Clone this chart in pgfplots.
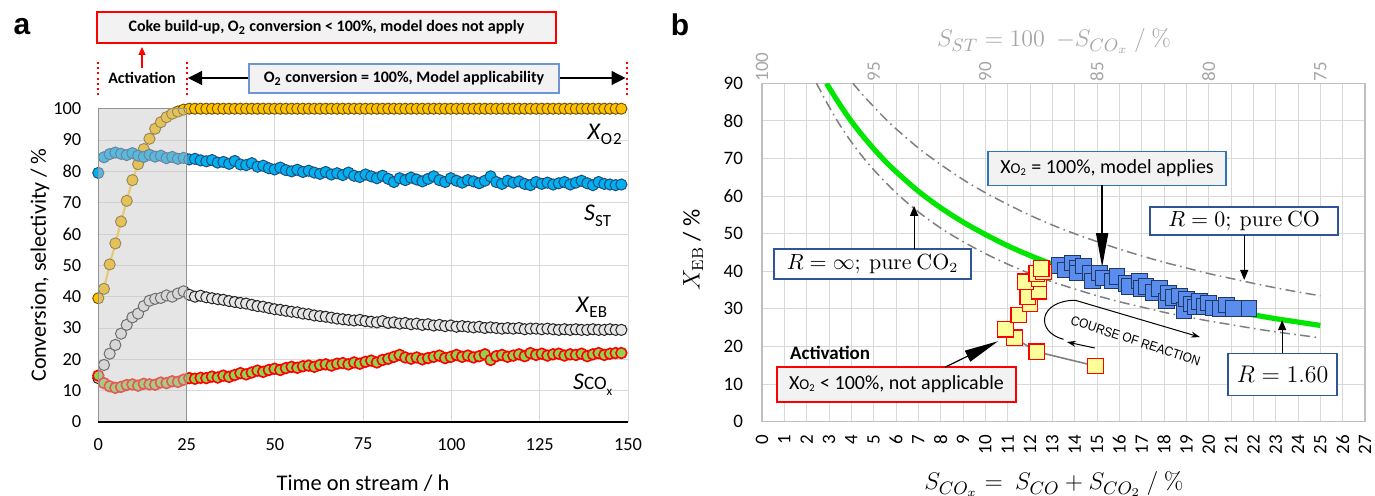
\documentclass[border=0pt]{standalone}
\usepackage[no-math]{fontspec}
\setmainfont{Carlito}
\newfontfamily\arialfont{Liberation Sans}
\usepackage{pgfplots}
\pgfplotsset{compat=1.18}
\usepackage{pgfplotstable}
\usetikzlibrary{arrows.meta}

\definecolor{gridgray}{HTML}{D9D9D9}
\definecolor{axisgray}{HTML}{BFBFBF}
\definecolor{oxy}{HTML}{FFC000}
\definecolor{oxyedge}{HTML}{6B5200}
\definecolor{styfill}{HTML}{00B0F0}
\definecolor{styedge}{HTML}{1F4E79}
\definecolor{ebfill}{HTML}{E7E6E6}
\definecolor{ebedge}{HTML}{262626}
\definecolor{coxfill}{HTML}{92D050}
\definecolor{boxfill}{HTML}{F2F2F2}
\definecolor{boxblue}{HTML}{6F94D6}
\definecolor{applyblue}{HTML}{2E75B6}
\definecolor{darkblue}{HTML}{2F5597}
\definecolor{sqblue}{HTML}{5B8DEF}
\definecolor{sqedge}{HTML}{203864}
\definecolor{sqyellow}{HTML}{FFFF99}
\definecolor{curvegreen}{HTML}{00E600}
\definecolor{dashgray}{HTML}{7F7F7F}
\definecolor{topgray}{HTML}{A6A6A6}

\newcommand{\sub}[1]{\raisebox{-0.45ex}{\fontsize{8.5}{8.5}\selectfont #1}}

% time on stream / h, X_O2, S_ST, X_EB, S_COx (all in %)
\pgfplotstableread{
t      xo2   sst   xeb   scox
0.00   39.5  79.5  14.0  14.8
1.61   42.5  84.5  18.2  12.4
3.22   50.3  85.5  21.8  11.4
4.83   57.0  86.0  24.6  10.9
6.44   64.0  85.6  28.2  11.2
8.05   70.6  85.2  31.0  11.8
9.66   77.2  85.8  33.4  12.0
11.27  82.3  85.0  34.6  11.6
12.88  87.1  84.6  37.0  12.2
14.49  90.4  85.3  38.7  12.0
16.10  93.6  84.7  39.3  11.9
17.71  95.7  85.0  39.6  12.6
19.32  97.3  84.2  40.4  12.4
20.93  98.4  84.6  40.0  13.0
22.54  99.1  84.0  41.0  12.8
24.15  99.7  84.3  41.7  13.5
25.76  100   83.8  40.6  14.0
27.37  100   84.0  40.0  13.8
28.98  100   83.5  40.3  14.1
30.59  100   83.2  39.8  14.0
32.20  100   83.6  39.5  14.5
33.81  100   82.8  39.2  14.2
35.42  100   83.0  39.0  14.8
37.03  100   82.4  38.6  14.4
38.64  100   83.3  38.3  15.0
40.25  100   82.2  38.0  15.6
41.86  100   82.0  37.8  15.2
43.47  100   82.6  37.4  15.8
45.08  100   81.5  37.0  16.4
46.69  100   81.8  36.8  16.0
48.30  100   81.0  36.4  16.6
49.91  100   80.6  36.0  17.0
51.52  100   81.2  35.8  16.6
53.13  100   80.4  35.5  17.2
54.74  100   80.0  35.2  17.6
56.35  100   80.5  35.0  17.3
57.96  100   79.8  34.6  17.8
59.57  100   80.2  34.4  18.0
61.18  100   79.6  34.0  17.6
62.79  100   79.2  33.8  18.2
64.40  100   79.8  33.6  18.4
66.01  100   79.0  33.3  18.0
67.62  100   79.4  33.0  18.6
69.23  100   78.8  32.8  18.8
70.84  100   79.6  32.6  18.4
72.45  100   78.6  32.4  19.0
74.06  100   78.2  32.6  18.6
75.67  100   79.0  32.2  19.2
77.28  100   78.4  32.0  19.6
78.89  100   77.8  31.8  19.0
80.50  100   78.6  32.2  19.8
82.11  100   77.6  31.6  20.2
83.72  100   76.6  31.8  20.8
85.33  100   77.8  31.4  21.4
86.94  100   77.2  31.6  20.6
88.55  100   78.0  31.2  20.2
90.16  100   77.4  31.4  20.6
91.77  100   76.8  31.0  20.0
93.38  100   77.6  31.2  20.4
94.99  100   78.4  30.8  20.8
96.60  100   77.2  31.0  21.2
98.21  100   76.6  30.6  20.4
99.82  100   77.8  30.8  20.8
101.43 100   77.0  30.4  21.4
103.04 100   76.4  30.6  20.8
104.65 100   77.2  30.4  21.2
106.26 100   76.8  30.2  20.6
107.87 100   76.2  30.4  21.0
109.48 100   77.0  30.0  21.6
111.09 100   78.4  30.2  19.8
112.70 100   76.6  30.0  21.0
114.31 100   76.0  29.8  21.4
115.92 100   77.0  30.0  20.8
117.53 100   76.4  29.8  21.2
119.14 100   76.8  30.0  21.6
120.75 100   76.0  29.6  21.0
122.36 100   75.6  29.8  22.0
123.97 100   76.6  29.8  21.4
125.58 100   76.0  29.6  21.8
127.19 100   76.4  29.8  21.2
128.80 100   75.8  29.6  21.6
130.41 100   76.2  29.4  21.8
132.02 100   76.6  29.6  21.2
133.63 100   75.8  29.4  21.6
135.24 100   76.4  29.6  21.4
136.85 100   77.0  29.4  21.8
138.46 100   76.2  29.4  21.0
140.07 100   75.6  29.6  21.6
141.68 100   76.6  29.4  22.0
143.29 100   76.0  29.4  21.4
144.90 100   75.8  29.6  21.8
146.51 100   75.6  29.4  22.0
148.12 100   75.8  29.4  22.0
}\tos

\begin{document}
\begin{tikzpicture}
\useasboundingbox (0,0) rectangle (687.5pt,248pt);

% ---------------- panel a: time on stream ----------------
\begin{axis}[
  at={(49.15pt,37pt)}, anchor=south west,
  width=264.85pt, height=156.65pt, scale only axis,
  xmin=0, xmax=150, ymin=0, ymax=100,
  xtick={0,25,...,150}, ytick={0,10,...,100},
  grid=major, major grid style={gridgray, line width=0.5pt},
  axis line style={draw=none},
  major tick length=0pt,
  tick label style={font=\fontsize{9.2}{10}\selectfont},
  /pgf/number format/assume math mode=true,
  yticklabel style={xshift=-5pt},
  xticklabel style={yshift=-4.5pt},
  clip=false,
]
\addplot[color=oxy!80!white, line width=1.1pt, mark=*, mark size=2.8pt,
  mark options={fill=oxy, draw=oxyedge, line width=0.45pt}] table[x=t, y=xo2]{\tos};
\addplot[only marks, mark=*, mark size=2.8pt,
  mark options={fill=styfill, draw=styedge, line width=0.5pt}] table[x=t, y=sst]{\tos};
\addplot[only marks, mark=*, mark size=2.8pt,
  mark options={fill=ebfill, draw=ebedge, line width=0.5pt}] table[x=t, y=xeb]{\tos};
\addplot[only marks, mark=*, mark size=2.7pt,
  mark options={fill=coxfill, draw=red, line width=0.8pt}] table[x=t, y=scox]{\tos};

% series names
\node[font=\fontsize{12}{12}\selectfont] at (axis cs:143.4,91.7) {\textit{X}\sub{O\kern0.6pt 2}};
\node[font=\fontsize{12}{12}\selectfont] at (axis cs:141.4,65.8) {\textit{S}\sub{ST}};
\node[font=\fontsize{12}{12}\selectfont] at (axis cs:139.7,36.5) {\textit{X}\sub{EB}};
\node[font=\fontsize{12}{12}\selectfont] at (axis cs:140.0,11.9) {\textit{S}{\fontsize{9.5}{9.5}\selectfont CO}\raisebox{-0.5ex}{\fontsize{6.5}{6.5}\selectfont x}};
\end{axis}

% ---------------- panel b: X_EB versus S_COx ----------------
\begin{axis}[
  at={(381pt,37.15pt)}, anchor=south west,
  width=301.5pt, height=169.2pt, scale only axis,
  xmin=0, xmax=27, ymin=0, ymax=90,
  xtick={0,...,27}, ytick={0,10,...,90},
  grid=major, major grid style={gridgray, line width=0.5pt},
  axis line style={draw=axisgray, line width=0.6pt},
  major tick length=0pt,
  tick label style={font=\fontsize{9.5}{10}\selectfont},
  /pgf/number format/assume math mode=true,
  yticklabel style={xshift=-6pt},
  xticklabel style={rotate=90, anchor=east, inner xsep=6.5pt},
]
% R = 1.60
\addplot[curvegreen, line width=2.6pt, smooth] coordinates {
 (2.89,90) (3.0,88.9) (3.5,84.2) (4,79.9) (4.5,76.1) (5,72.6) (5.5,69.4)
 (6,66.5) (7,61.3) (8,56.9) (9,53.1) (10,49.8) (11,46.8) (12,44.2)
 (13,41.9) (14,39.8) (15,37.9) (16,36.1) (17,34.6) (18,33.1) (19,31.8)
 (20,30.6) (21,29.4) (22,28.4) (23,27.4) (24,26.5) (25,25.6)};
% R = 0
\addplot[dashgray, line width=0.75pt, smooth,
  dash pattern=on 5pt off 2.2pt on 0.8pt off 2.2pt] coordinates {
 (4.07,90) (4.5,87.0) (5,83.8) (5.5,80.7) (6,77.9) (7,72.8) (8,68.4)
 (9,64.4) (10,60.9) (11,57.8) (12,54.9) (13,52.3) (14,50.0) (15,47.9)
 (16,45.9) (17,44.1) (18,42.4) (19,40.9) (20,39.4) (21,38.1) (22,36.8)
 (23,35.6) (24,34.5) (25,33.5)};
% R = infinity
\addplot[dashgray, line width=0.75pt, smooth,
  dash pattern=on 5pt off 2.2pt on 0.8pt off 2.2pt] coordinates {
 (2.44,90) (2.75,86.5) (3,83.8) (3.5,78.8) (4,74.4) (4.5,70.5) (5,67.0)
 (6,60.9) (7,55.8) (8,51.5) (9,47.9) (10,44.7) (11,41.9) (12,39.4)
 (13,37.2) (14,35.3) (15,33.5) (16,31.9) (17,30.5) (18,29.1) (19,27.9)
 (20,26.8) (21,25.8) (22,24.8) (23,23.9) (24,23.1) (25,22.3)};
% O2 conversion = 100 %
\addplot[only marks, mark=square*, mark size=3.9pt,
  mark options={fill=sqblue, draw=sqedge, line width=0.5pt}] coordinates {
 (13.3,41.5) (13.6,40.3) (13.9,42.2) (14.1,40.8) (14.1,39.6) (14.4,41.4)
 (14.7,39.5) (14.8,37.4) (15.1,39.6) (15.3,38.2) (15.7,37.4) (15.9,38.6)
 (16.3,36.8) (16.45,36.0) (16.9,37.4) (17.0,35.4) (17.2,36.0) (17.5,34.4)
 (17.8,35.4) (18.1,32.1) (18.2,34.2) (18.4,33.0) (18.7,33.4) (18.9,29.6)
 (19.0,32.6) (19.2,31.3) (19.4,30.5) (19.6,32.0) (19.8,30.6) (20.0,31.6)
 (20.2,30.2) (20.5,30.1) (20.8,31.0) (21.1,30.1) (21.8,30.1)};
% activation period
\addplot[gray, line width=0.8pt, mark=square*, mark size=3.9pt,
  mark options={solid, fill=sqyellow, draw=red, line width=0.6pt}] coordinates {
 (14.94,14.8) (12.3,18.6) (11.3,22.3) (10.9,24.6) (11.5,28.4) (12.0,31.3)
 (11.9,33.3) (12.4,34.7) (11.8,37.2) (12.4,38.0) (12.3,39.4) (12.6,39.8)
 (12.5,40.7)};

% annotations
\node[draw=applyblue, fill=boxfill, line width=0.6pt, minimum width=119pt,
  minimum height=17pt, inner sep=0pt, font=\fontsize{10}{10}\selectfont]
  at (axis cs:15.45,67.4) {X{\fontsize{7.5}{7.5}\selectfont O\textsubscript{2}} = 100\%, model applies};
\draw[line width=0.7pt, -{Triangle[length=17pt,width=6pt]}] (axis cs:15.23,62.9) -- (axis cs:15.23,41.1);

\node[draw=darkblue, fill=white, line width=0.7pt, minimum width=94pt,
  minimum height=14pt, inner sep=0pt, font=\fontsize{10.5}{10.5}\selectfont]
  at (axis cs:21.59,53.4) {$R = 0;\ \mathrm{pure\ CO}$};
\draw[line width=0.6pt, -{Triangle[length=5pt,width=4pt]}] (axis cs:21.59,49.6) -- (axis cs:21.59,37.7);

\node[draw=darkblue, fill=white, line width=0.7pt, minimum width=54.5pt,
  minimum height=21pt, inner sep=0pt, font=\fontsize{12}{12}\selectfont]
  at (axis cs:23.31,12.55) {$R = 1.60$};
\draw[line width=0.6pt, -{Triangle[length=5pt,width=4pt]}] (axis cs:23.29,18.3) -- (axis cs:23.29,27.0);

\node[draw=darkblue, fill=white, line width=0.7pt, minimum width=98.5pt,
  minimum height=15pt, inner sep=0pt, font=\fontsize{10.5}{10.5}\selectfont]
  at (axis cs:4.95,41.9) {$R = \infty;\ \mathrm{pure\ CO_2}$};
\draw[line width=0.6pt, -{Triangle[length=5pt,width=4pt]}] (axis cs:6.81,45.9) -- (axis cs:6.81,57.4);

\node[font=\bfseries\fontsize{9.5}{9.5}\selectfont] at (axis cs:3.05,18.3) {Activation};
\node[draw=red, fill=boxfill, line width=0.6pt, minimum width=119.5pt,
  minimum height=17.5pt, inner sep=0pt, font=\fontsize{10}{10}\selectfont]
  at (axis cs:6.02,9.9) {X{\fontsize{7.5}{7.5}\selectfont O\textsubscript{2}} < 100\%, not applicable};
\draw[line width=0.6pt, -{Triangle[length=17pt,width=6pt]}] (axis cs:8.2,14.5) -- (axis cs:10.57,21.4);

% course of reaction
\node[rotate=-18, xscale=0.9, font=\arialfont\fontsize{6.6}{6.6}\selectfont] at (axis cs:16.73,21.5) {COURSE OF REACTION};
\draw[line width=0.5pt, -{Stealth[length=4.5pt,width=3pt]}] (axis cs:14.02,32.3) -- (axis cs:19.61,22.5);
\draw[line width=0.5pt] (axis cs:14.02,32.3) .. controls (axis cs:12.4,32.2) and (axis cs:12.2,24.0) .. (axis cs:13.5,21.9);
\draw[line width=0.5pt, -{Stealth[length=4.5pt,width=3pt]}] (axis cs:14.9,19.6) -- (axis cs:13.65,21.2);
\end{axis}

% secondary scale: S_ST = 100 - S_COx
\begin{axis}[
  at={(381pt,37.15pt)}, anchor=south west,
  width=301.5pt, height=169.2pt, scale only axis,
  xmin=0, xmax=27, ymin=0, ymax=90,
  axis x line*=top, axis y line=none,
  axis line style={draw=none},
  major tick length=0pt,
  xtick={0,5,...,25}, xticklabels={100,95,90,85,80,75},
  tick label style={font=\fontsize{9.5}{10}\selectfont, text=topgray},
  xticklabel style={rotate=90, anchor=west, inner xsep=0.8pt},
]
\end{axis}

% ---------------- labels and annotations outside the axes ----------------
\begin{scope}[x=0.5pt, y=-0.5pt, yshift=248pt]
% activation period of panel a (0-25 h), laid over the points
\fill[gray!45, opacity=0.45] (98.3,422) rectangle (186.6,108.7);
\draw[gray!85, line width=0.6pt] (98.3,422) -- (98.3,108.7) -- (186.6,108.7) -- (186.6,422);
\draw[black, line width=1.3pt] (98.3,422) -- (628,422);

\node[font=\arialfont\bfseries\fontsize{15}{15}\selectfont] at (22,27) {a};
\node[font=\arialfont\bfseries\fontsize{15}{15}\selectfont] at (680,25) {b};

\node[draw=red, fill=boxfill, line width=0.6pt, minimum width=229.5pt,
  minimum height=15.5pt, inner sep=0pt, font=\bfseries\fontsize{8}{8}\selectfont]
  at (326.5,27.5) {Coke build-up, O\textsubscript{2} conversion < 100\%, model does not apply};
\draw[red, line width=0.6pt, -{Triangle[length=4pt,width=3.5pt]}] (142,68) -- (142,47);

\draw[red, line width=1pt, dash pattern=on 1pt off 1.6pt] (98.3,62) -- (98.3,95);
\draw[red, line width=1pt, dash pattern=on 1pt off 1.6pt] (186.7,62) -- (186.7,95);
\draw[red, line width=1pt, dash pattern=on 1pt off 1.6pt] (627,62) -- (627,95);

\node[font=\bfseries\fontsize{8}{8}\selectfont] at (142,78) {Activation};
\draw[line width=0.6pt, {Triangle[length=7pt,width=7pt]}-{Triangle[length=7pt,width=7pt]}] (188,78) -- (625.5,78);
\node[draw=boxblue, fill=boxfill, line width=0.6pt, minimum width=155pt,
  minimum height=14.5pt, inner sep=0pt, font=\bfseries\fontsize{8}{8}\selectfont]
  at (404,78.5) {O\textsubscript{2} conversion = 100\%, Model applicability};

\node[rotate=90, font=\fontsize{11}{11}\selectfont] at (40,265) {Conversion, selectivity / \%};
\node[font=\fontsize{11.2}{11.2}\selectfont] at (363,483) {Time on stream / h};

\node[rotate=90, font=\fontsize{12}{12}\selectfont] at (693,250) {$X_{\mathrm{EB}}$ / \%};
\node[font=\fontsize{12.5}{12.5}\selectfont] at (1054,484) {$S_{CO_x} =\ S_{CO} + S_{CO_2}\ /\ \%$};
\node[text=topgray, font=\fontsize{12.5}{12.5}\selectfont] at (1054,41) {$S_{ST} = 100\ \ {-}S_{CO_x}\ /\ \%$};
\end{scope}
\end{tikzpicture}
\end{document}
